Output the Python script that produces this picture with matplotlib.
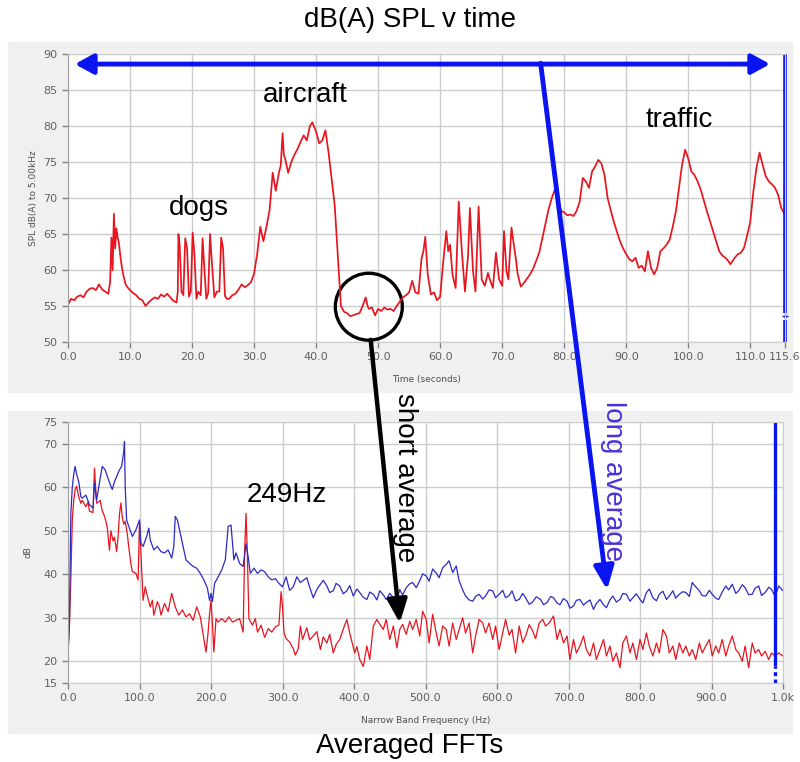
import matplotlib
matplotlib.use('Agg')
import matplotlib.pyplot as plt
from matplotlib.patches import Rectangle, Ellipse, ConnectionPatch

# SPL trace (time in s, dB(A))
time_s = [0, 0.5, 1, 1.5, 2, 2.5, 3, 3.5, 4, 4.5, 5, 5.5, 6, 6.5, 6.8, 7.0, 7.2, 7.4, 7.6, 7.8,
          8.0, 8.2, 8.5, 8.7, 9.0, 9.3, 9.6, 10, 10.5, 11, 11.5, 12, 12.5, 13, 13.5, 14, 14.5, 15,
          15.5, 16, 16.5, 17, 17.5, 17.7, 17.8, 18.0, 18.3, 18.6, 18.9, 19.2, 19.5, 19.8, 20.1,
          20.4, 20.7, 21.0, 21.4, 21.7, 22.0, 22.3, 22.6, 22.9, 23.2, 23.6, 24.0, 24.4, 24.7, 25.0,
          25.3, 25.6, 26, 26.5, 27, 27.5, 28, 28.5, 29, 29.5, 30, 30.5, 31, 31.5, 32, 32.5, 33,
          33.5, 34, 34.3, 34.6, 34.8, 35, 35.5, 36, 36.5, 37, 37.5, 38, 38.5, 39, 39.4, 40, 40.5,
          41, 41.5, 42, 42.5, 43, 43.5, 44, 44.5, 45, 45.5, 46, 46.5, 47, 47.5, 48, 48.3, 48.5,
          49, 49.5, 50, 50.5, 51, 51.5, 52, 52.5, 53, 53.5, 54, 54.5, 55, 55.5, 56, 56.5, 57,
          57.3, 57.6, 58, 58.5, 59, 59.5, 60, 60.5, 61, 61.3, 61.6, 62, 62.5, 63, 63.5, 64, 64.5,
          64.8, 65.3, 65.7, 66.2, 66.7, 67.2, 67.7, 68, 68.5, 69, 69.5, 70, 70.3, 70.7, 71, 71.5,
          71.8, 72.2, 72.5, 73, 73.5, 74, 74.5, 75, 75.5, 76, 76.5, 77, 77.5, 78, 78.5, 79, 79.5,
          80, 80.5, 81, 81.5, 82, 82.5, 83, 83.5, 84, 84.5, 85, 85.5, 86, 86.5, 87, 87.5, 88,
          88.5, 89, 89.5, 90, 90.5, 91, 91.5, 92, 92.5, 93, 93.5, 94, 94.5, 95, 95.5, 96, 96.5,
          97, 97.5, 98, 98.5, 99, 99.5, 100, 100.5, 101, 101.5, 102, 102.5, 103, 103.5, 104,
          104.5, 105, 105.5, 106, 106.5, 106.8, 107.5, 108, 108.5, 109, 109.5, 110, 110.5, 111,
          111.5, 112, 112.5, 113, 113.5, 114, 114.5, 115, 115.6]
spl_dba = [55.2, 56, 55.8, 56.3, 56.5, 56.2, 57, 57.4, 57.5, 57.2, 58, 57.3, 57, 56.7, 58.4, 64.5,
           60, 67.8, 63, 65.8, 64.5, 63.8, 61.5, 60.3, 59, 58, 57.6, 57.2, 56.8, 56.5, 56, 55.8,
           55, 55.5, 55.9, 56.2, 56, 56.6, 56.3, 56.7, 56.2, 55.7, 55.5, 57, 65, 63.5, 57, 56.5,
           64.4, 63, 56.3, 57, 65.2, 62, 56, 57, 56.5, 64.4, 60, 56, 56.8, 65, 61, 56.2, 57, 57,
           64.5, 63, 56.4, 56, 56, 56.5, 56.7, 57.3, 58, 57.6, 57.9, 58.3, 59.5, 62.2, 66, 64,
           66, 68.3, 73.5, 71, 73.5, 74.5, 79, 76, 75.5, 73.5, 75, 76, 76.8, 77.8, 78.7, 78, 80,
           80.5, 79.2, 77.6, 78, 79.4, 76.4, 72.7, 69, 62, 55, 54.2, 54, 53.6, 53.7, 53.9, 54, 55,
           56.2, 55, 54.6, 54.8, 53.7, 54.6, 54.3, 54.8, 54.5, 54.6, 54.3, 55, 55.6, 56.2, 56.5,
           56.9, 58.5, 56.9, 56.7, 61.6, 62.6, 64.6, 59.4, 56.6, 56.9, 55.8, 56.3, 61.2, 65.4,
           62.6, 63.5, 59.3, 57.5, 69.5, 62.6, 57, 62, 68.6, 59.8, 57, 68.8, 58.7, 57.8, 59.6,
           58.7, 57.5, 62.4, 58.7, 57.8, 65.4, 59.8, 58.7, 65.9, 64, 61.6, 59.4, 57.7, 58.2, 58.8,
           59.4, 60.2, 61.3, 62.5, 64.5, 66.5, 68.5, 70, 71.2, 69.5, 68.2, 68, 67.6, 67.7, 67.5,
           68.2, 69.5, 72.8, 72.3, 71.4, 73.7, 74.4, 75.3, 74.8, 73.2, 70, 68.3, 66.7, 65.3, 64,
           63, 62.2, 61.5, 61.2, 61.7, 60.3, 60.6, 59.8, 62.6, 60.3, 59.4, 60.3, 62.6, 63, 63.5,
           64.2, 66, 68.1, 71.4, 74.6, 76.7, 75.5, 73.7, 73.2, 72.3, 71.2, 69.7, 68.2, 66.8, 65.4,
           64, 62.6, 62, 61.7, 61.2, 60.8, 61.7, 62.2, 62.4, 63.1, 64.8, 66.7, 70.9, 74.2, 76.3,
           74.6, 73, 72.3, 71.9, 71.4, 70.4, 68.6, 67.7]

# long average FFT (blue)
freq_long = [0, 2, 4, 6, 8, 10, 12, 15, 18, 20, 25, 30, 35, 37, 40, 45, 48, 52, 55, 60, 62, 65, 70,
             72, 75, 78, 79, 80, 82, 85, 90, 95, 100, 102, 105, 110, 113, 115, 120, 125, 130, 135,
             140, 145, 148, 150, 153, 156, 160, 165, 170, 175, 180, 185, 190, 195, 198, 200, 202,
             205, 210, 215, 220, 224, 228, 232, 235, 240, 245, 249, 252, 255, 260, 265, 270, 275,
             280, 285, 290, 295, 300, 305, 310, 315, 320, 325, 330, 334, 338, 343, 348, 353, 357,
             362, 366, 371, 375, 380, 385, 390, 394, 399, 404, 408, 413, 418, 422, 427, 432, 436,
             441, 445, 450, 455, 460, 464, 468, 473, 478, 482, 487, 492, 496, 501, 505, 510, 515,
             519, 524, 529, 533, 538, 543, 547, 552, 556, 561, 566, 570, 575, 580, 584, 589, 594,
             598, 603, 608, 612, 617, 621, 626, 631, 636, 640, 645, 649, 655, 661, 665, 670, 675,
             679, 684, 688, 693, 698, 702, 707, 711, 716, 721, 725, 730, 735, 739, 744, 749, 753,
             758, 762, 767, 772, 776, 781, 786, 790, 795, 800, 804, 809, 813, 818, 823, 827, 832,
             837, 841, 846, 850, 855, 860, 864, 869, 873, 877, 883, 887, 892, 897, 901, 906, 910,
             915, 920, 924, 929, 934, 938, 943, 947, 952, 957, 961, 966, 970, 975, 980, 984, 989,
             994, 1000]
db_long = [21.7, 29, 54, 60, 63, 64.8, 63, 61.3, 57.8, 57.5, 58.2, 56, 55.2, 61, 57, 62.1, 64.8, 64,
           62.5, 60.2, 59.5, 61.3, 63.2, 64, 64.8, 68.2, 70.5, 60.2, 52.5, 51, 48.7, 50.2, 52.5,
           47.1, 46.4, 48.7, 50.6, 47.9, 45.6, 46.4, 45.2, 44.9, 45.6, 43.7, 46.4, 53.3, 52.5, 50.2,
           47.1, 43.3, 42.5, 41.8, 41.4, 40.2, 38.7, 36.8, 34, 35.6, 33.7, 37.9, 39.4, 41, 43.3, 51,
           51.3, 43.3, 44.9, 42.5, 41.8, 47, 44, 40.2, 41.4, 40.2, 41, 40.6, 39.4, 38.7, 39, 37.9,
           37.1, 39.4, 36.3, 37.1, 39.4, 38.1, 38.7, 39.2, 37.0, 34.6, 36.5, 37.7, 38.6, 37.3, 35.8,
           36.2, 37.9, 37.3, 35.5, 36.2, 37.4, 35, 36.6, 35.8, 34.7, 34.2, 35.9, 35.4, 34.1, 36.2,
           35.3, 34.2, 35.6, 34.6, 33.9, 36.5, 35.2, 36.9, 37.8, 38.1, 36.9, 38.5, 40.1, 39.6, 38.4,
           41.2, 40.3, 39.2, 41.5, 42.3, 43.1, 40.4, 41.9, 38.5, 36.4, 35, 34.1, 33.8, 34.9, 35.4,
           34.3, 35, 36.4, 36.2, 34.6, 35.4, 36.3, 34.6, 35.1, 36.2, 33.9, 34.2, 35.6, 34.6, 33.1,
           33.5, 34.8, 34.2, 33.0, 33.5, 34.9, 34.6, 33.4, 33, 34.4, 33.8, 32.2, 32.7, 34.0, 34.2,
           32.9, 33.5, 34.1, 31.9, 33.3, 34.2, 33.0, 32.3, 34.1, 35, 33.6, 34.2, 35.6, 35.4, 33.8,
           34.6, 35.5, 34.2, 33.4, 35.8, 36.6, 34.6, 33.9, 35.4, 36.1, 34.2, 35.0, 36.2, 34.5,
           35.4, 36.0, 35.8, 34.9, 38.1, 37.3, 36.2, 35.1, 35, 36.3, 35.4, 34.5, 34.2, 35.9, 37.3,
           36.4, 37.7, 35.6, 36.2, 37.6, 36.9, 35.3, 35.4, 36.8, 37.3, 35.1, 35.8, 37.0, 36.5,
           34.9, 37.3, 36.2]

# short average FFT (red)
freq_short = [0, 2, 4, 6, 8, 10, 12, 15, 18, 20, 25, 28, 30, 35, 37, 40, 45, 48, 50, 53, 55, 58,
              60, 63, 65, 68, 70, 72, 74, 76, 78, 80, 83, 85, 88, 90, 95, 98, 100, 102, 105, 108,
              110, 115, 118, 120, 125, 128, 130, 135, 140, 145, 150, 155, 160, 165, 170, 175, 180,
              185, 190, 193, 196, 198, 200, 202, 204, 207, 210, 215, 220, 225, 230, 235, 240, 245,
              247, 249, 251, 253, 258, 262, 265, 270, 275, 280, 285, 290, 295, 298, 300, 302, 305,
              310, 315, 318, 322, 325, 328, 334, 338, 343, 348, 353, 357, 362, 366, 371, 375, 380,
              385, 390, 394, 401, 404, 408, 413, 418, 422, 427, 432, 436, 441, 445, 450, 455, 460,
              464, 468, 473, 478, 482, 487, 492, 496, 501, 505, 510, 515, 519, 524, 529, 533, 538,
              543, 547, 552, 556, 561, 566, 570, 575, 580, 584, 589, 594, 598, 603, 608, 612, 617,
              621, 626, 631, 636, 640, 645, 649, 654, 659, 664, 668, 673, 679, 684, 688, 693, 698,
              702, 707, 711, 716, 721, 725, 730, 735, 739, 744, 749, 753, 758, 762, 767, 772, 776,
              781, 786, 790, 795, 800, 804, 809, 813, 818, 823, 827, 832, 837, 841, 846, 850, 855,
              860, 864, 869, 873, 878, 883, 887, 892, 897, 901, 906, 910, 915, 920, 924, 929, 934,
              938, 943, 947, 952, 957, 961, 966, 970, 975, 980, 984, 989, 994, 1000]
db_short = [21.7, 28.5, 39.2, 52.5, 57, 59.5, 60.2, 57.8, 56.3, 57, 55.5, 56.6, 54.5, 54.2, 64.4,
            56.3, 57, 54.5, 53.8, 52.2, 50.7, 45.5, 50, 47.7, 48.5, 45.2, 48.5, 53.8, 56.4, 53,
            51.5, 52.2, 49.2, 46.2, 42.4, 40.6, 40.2, 38.7, 52, 45, 34, 37.1, 35.6, 32.5, 34, 30.6,
            33.7, 32.5, 30.6, 33.3, 31.4, 35.6, 32.5, 30.6, 31.8, 30.2, 30.9, 29.4, 32.5, 30.2,
            25.2, 22.1, 26.7, 30.9, 34, 28.7, 22.1, 29.8, 29, 29.8, 29, 30.2, 29, 29.4, 29.8, 26.7,
            45, 54, 43.6, 29.8, 28.3, 29.8, 26.7, 28.3, 25.5, 27.5, 26.7, 27.9, 28.3, 36, 32.8,
            26.7, 25.2, 24.4, 22.9, 21.4, 22.9, 28.1, 25, 27.7, 24.9, 25.8, 26.8, 22.7, 25.6, 24.2,
            26.2, 21.9, 23.8, 25, 27.4, 29.6, 26.5, 21.9, 23.4, 20.4, 18.8, 23.5, 20.4, 28.1, 29.6,
            28.5, 27.3, 29.6, 25, 28.1, 23.1, 27.3, 28.5, 26.2, 29.2, 27.3, 29.6, 25.8, 31.5, 29.6,
            24.2, 30.8, 26.5, 23.5, 28.1, 27.3, 23.5, 28.8, 25, 27.3, 30, 26.5, 28.8, 21.9, 25.8,
            29.6, 28.8, 26.5, 28.8, 25, 28.1, 22.7, 26.5, 29.6, 26.0, 27.3, 21.9, 28.1, 24.3, 25.8,
            28.4, 27.3, 25.2, 28.8, 29.6, 28.1, 28.8, 30.4, 25, 27.3, 24.2, 25.8, 20.4, 25, 21.9,
            23.5, 25.8, 22.7, 21.2, 24.2, 20.4, 22.7, 25, 21.2, 23.5, 20, 21.9, 18.5, 24.2, 25.8,
            21.9, 24.2, 20.4, 25, 22.7, 26.5, 23.5, 21.2, 24.2, 21.9, 27.3, 25.8, 21.9, 23.5, 20.4,
            24.2, 21.9, 23.5, 21.2, 22.7, 20.4, 24.2, 21.9, 23.5, 25, 21.2, 23.5, 21.9, 25, 21.2,
            23.5, 25.8, 22.7, 21.9, 20, 23.5, 18.5, 24.2, 21.9, 22.7, 21.2, 22.3, 20.4, 21.9, 21.2,
            21.9, 21.2]

time_ticks = [0, 10, 20, 30, 40, 50, 60, 70, 80, 90, 100, 110, 115.6]
spl_ticks = [50, 55, 60, 65, 70, 75, 80, 85, 90]
freq_ticks = [0, 100, 200, 300, 400, 500, 600, 700, 800, 900, 1000]
freq_labels = ['0.0', '100.0', '200.0', '300.0', '400.0', '500.0', '600.0', '700.0',
               '800.0', '900.0', '1.0k']
db_ticks = [15, 20, 30, 40, 50, 60, 70, 75]

RED = '#e8141e'
BLUE_TRACE = '#2b2bc4'
BLUE = '#0a14f0'
PURPLE = '#4a30d8'
PANEL = '#f0f0f0'
GRID = '#cccccc'
TXT = 'Liberation Sans'

fig = plt.figure(figsize=(8, 7.62), dpi=100)
W, H = 800, 762

# grey panels behind each chart
fig.patches.append(Rectangle((8 / W, (H - 392) / H), 784 / W, 350 / H,
                             transform=fig.transFigure, color=PANEL, zorder=-5))
fig.patches.append(Rectangle((8 / W, (H - 733) / H), 784 / W, 322 / H,
                             transform=fig.transFigure, color=PANEL, zorder=-5))

ax1 = fig.add_axes([68 / W, (H - 342) / H, 717 / W, 288 / H])
ax2 = fig.add_axes([68 / W, (H - 683) / H, 715 / W, 261 / H])


def style(ax):
    ax.set_facecolor('white')
    ax.grid(True, color=GRID, linewidth=1.0)
    ax.set_axisbelow(True)
    for s in ax.spines.values():
        s.set_color(GRID)
    ax.spines['left'].set_color('#a0a0a0')
    ax.tick_params(direction='out', length=4, width=1, color='#808080',
                   labelcolor='#606060', labelsize=8)


# top: SPL v time
ax1.plot(time_s, spl_dba, color=RED, linewidth=1.25)
ax1.set_xlim(0, 115.6)
ax1.set_ylim(50, 90)
ax1.set_xticks(time_ticks)
ax1.set_xticklabels(['%.1f' % t for t in time_ticks])
ax1.set_yticks(spl_ticks)
style(ax1)
ax1.set_xlabel('Time (seconds)', fontsize=6.5, color='#505050', labelpad=9)
ax1.set_ylabel('SPL dB(A) to 5.00kHz', fontsize=6.5, color='#505050', labelpad=4)

# bottom: averaged FFTs
ax2.plot(freq_short, db_short, color=RED, linewidth=0.9)
ax2.plot(freq_long, db_long, color=BLUE_TRACE, linewidth=0.9)
ax2.set_xlim(0, 1000)
ax2.set_ylim(15, 75)
ax2.set_xticks(freq_ticks)
ax2.set_xticklabels(freq_labels)
ax2.set_yticks(db_ticks)
style(ax2)
ax2.set_xlabel('Narrow Band Frequency (Hz)', fontsize=6.5, color='#505050', labelpad=9)
ax2.set_ylabel('dB', fontsize=6.5, color='#505050', labelpad=8)

# titles
fig.text(410 / W, 1 - 20 / H, 'dB(A) SPL v time', fontsize=20, family=TXT,
         ha='center', va='center')
fig.text(410 / W, 1 - 746 / H, 'Averaged FFTs', fontsize=20, family=TXT,
         ha='center', va='center')

# labels on the SPL trace
ax1.text(38.3, 84.3, 'aircraft', fontsize=20, family=TXT, ha='center', va='center')
ax1.text(21.1, 68.6, 'dogs', fontsize=20, family=TXT, ha='center', va='center')
ax1.text(98.6, 80.8, 'traffic', fontsize=20, family=TXT, ha='center', va='center')
ax2.text(306, 58.2, '249Hz', fontsize=20, family=TXT, ha='center', va='center')

# cursors
ax1.annotate('', xy=(1.1, 88.6), xytext=(113.2, 88.6),
             arrowprops=dict(arrowstyle='<|-|>,head_length=0.55,head_width=0.3',
                             color=BLUE, lw=3.5, mutation_scale=20, shrinkA=0, shrinkB=0))
ax1.plot([115.6, 115.6], [54.0, 90], color=BLUE, lw=2.6, clip_on=False, solid_capstyle='butt')
ax1.plot([115.6, 115.6], [50, 53.1], color=BLUE, lw=2.6, clip_on=False, solid_capstyle='butt')
ax1.plot([115.6], [53.55], marker='+', ms=5, mew=1, color=BLUE, clip_on=False)
ax2.plot([989, 989], [19, 75], color=BLUE, lw=2.4, solid_capstyle='butt')
ax2.plot([989, 989], [15, 19], color=BLUE, lw=2.4, linestyle=(0, (1.2, 1.0)))

ax1.add_patch(Ellipse((48.5, 54.9), 10.8, 9.3, fill=False, edgecolor='black',
                      linewidth=2.4, clip_on=False))

# arrows running from the top chart into the bottom one
fig.add_artist(ConnectionPatch(xyA=(48.8, 50.3), coordsA=ax1.transData,
                               xyB=(464, 28.8), coordsB=ax2.transData,
                               arrowstyle='-|>,head_length=0.7,head_width=0.3',
                               mutation_scale=20, color='black', lw=3.2,
                               shrinkA=0, shrinkB=0))
fig.add_artist(ConnectionPatch(xyA=(76.2, 88.7), coordsA=ax1.transData,
                               xyB=(754, 36.4), coordsB=ax2.transData,
                               arrowstyle='-|>,head_length=0.7,head_width=0.3',
                               mutation_scale=20, color=BLUE, lw=3.5,
                               shrinkA=0, shrinkB=0))

fig.text(405 / W, 1 - 478 / H, 'short average', fontsize=20, family=TXT,
         rotation=270, ha='center', va='center')
fig.text(613 / W, 1 - 481 / H, 'long average', fontsize=20, family=TXT, color=PURPLE,
         rotation=270, ha='center', va='center')

fig.savefig('out.png', dpi=100)
